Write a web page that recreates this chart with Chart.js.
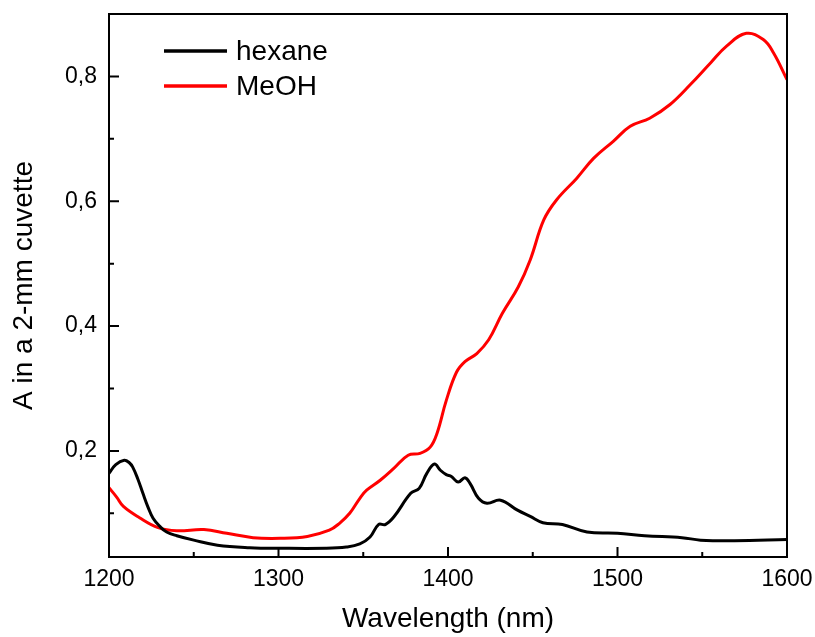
<!DOCTYPE html>
<html>
<head>
<meta charset="utf-8">
<script src="https://cdn.jsdelivr.net/npm/chart.js@4/dist/chart.umd.min.js"></script>
<style>
html,body{margin:0;padding:0;background:#fff;}
#wrap{width:815px;height:637px;}
</style>
</head>
<body>
<div id="wrap"><canvas id="c" width="815" height="637"></canvas></div>
<script>
const seriesNames = ['hexane', 'MeOH'];
const hexaneX = [1200,1204,1209,1212,1214,1217,1220,1223,1226,1230,1234,1240,1250,1264,1283,1301,1328,1340,1348,1354,1359,1363,1368,1378,1383,1387.5,1392,1395.5,1399,1402,1406,1410,1413,1418,1423,1431,1441,1448.5,1456,1467.5,1482,1500,1516,1538,1549,1569,1600];
const hexaneY = [0.164,0.178,0.185,0.181,0.174,0.155,0.132,0.110,0.092,0.079,0.070,0.064,0.057,0.049,0.045,0.044,0.044,0.046,0.051,0.062,0.082,0.082,0.094,0.132,0.140,0.164,0.179,0.169,0.162,0.159,0.150,0.157,0.148,0.124,0.116,0.121,0.105,0.095,0.085,0.082,0.070,0.068,0.064,0.061,0.057,0.056,0.058];
const meohX = [1200,1204.5,1208.5,1218,1229,1240,1256,1269.5,1285,1301,1317,1330,1336,1342,1348,1352,1360,1368,1376.5,1383.5,1389.5,1393.5,1399,1405,1410,1417,1424,1432,1441.5,1448.5,1456.5,1464,1476,1486,1497.5,1507.5,1519,1531,1543,1555,1564.5,1576,1586,1592,1600];
const meohY = [0.141,0.126,0.111,0.093,0.077,0.072,0.074,0.068,0.061,0.060,0.063,0.073,0.084,0.100,0.124,0.137,0.153,0.172,0.193,0.196,0.206,0.228,0.281,0.326,0.343,0.356,0.378,0.420,0.463,0.506,0.570,0.602,0.637,0.669,0.696,0.720,0.733,0.755,0.787,0.822,0.849,0.869,0.859,0.838,0.795];
const xMajorTicks = [1200,1300,1400,1500,1600];
const xMinorTicks = [1250,1350,1450,1550];
const yMajorTicks = [0.2,0.4,0.6,0.8];
const yMinorTicks = [0.1,0.3,0.5,0.7];
const xTitle = 'Wavelength (nm)';
const yTitle = 'A in a 2-mm cuvette';

const FONT = "'Liberation Sans', Arial, sans-serif";
const colors = ['#000000', '#ff0000'];

function pts(xs, ys){ return xs.map((x,i)=>({x:x, y:ys[i]})); }
function zeroPad(s){ s.paddingTop = 0; s.paddingBottom = 0; s.paddingLeft = 0; s.paddingRight = 0; }

const framePlugin = {
  id: 'frameTicks',
  afterDatasetsDraw(chart){
    const {ctx, chartArea:a, scales} = chart;
    const xs = scales.x, ys = scales.y;
    ctx.save();
    ctx.strokeStyle = '#000';
    ctx.lineWidth = 2;
    ctx.strokeRect(a.left, a.top, a.right - a.left, a.bottom - a.top);
    ctx.beginPath();
    xMajorTicks.forEach(v=>{ const p = xs.getPixelForValue(v); ctx.moveTo(p, a.bottom); ctx.lineTo(p, a.bottom - 10); });
    xMinorTicks.forEach(v=>{ const p = xs.getPixelForValue(v); ctx.moveTo(p, a.bottom); ctx.lineTo(p, a.bottom - 5); });
    yMajorTicks.forEach(v=>{ const p = ys.getPixelForValue(v); ctx.moveTo(a.left, p); ctx.lineTo(a.left + 10, p); });
    yMinorTicks.forEach(v=>{ const p = ys.getPixelForValue(v); ctx.moveTo(a.left, p); ctx.lineTo(a.left + 5, p); });
    ctx.stroke();
    ctx.restore();
  },
  afterDraw(chart){
    const {ctx} = chart;
    ctx.save();
    ctx.font = '28px ' + FONT;
    ctx.textBaseline = 'middle';
    ctx.fillStyle = '#000';
    const rows = [51, 86];
    seriesNames.forEach((n,i)=>{
      const y = rows[i];
      ctx.strokeStyle = colors[i];
      ctx.lineWidth = 3.5;
      ctx.beginPath();
      ctx.moveTo(164, y); ctx.lineTo(227, y);
      ctx.stroke();
      ctx.fillText(n, 236, y + 1);
    });
    ctx.restore();
  }
};

new Chart(document.getElementById('c'), {
  type: 'line',
  data: {
    datasets: [
      { label: seriesNames[0], data: pts(hexaneX, hexaneY), borderColor: colors[0], borderWidth: 3, pointRadius: 0, tension: 0.4, fill: false },
      { label: seriesNames[1], data: pts(meohX, meohY), borderColor: colors[1], borderWidth: 3, pointRadius: 0, tension: 0.4, fill: false }
    ]
  },
  options: {
    responsive: false,
    animation: false,
    devicePixelRatio: 1,
    layout: { padding: { top: 14, right: 28, left: 0, bottom: 0 } },
    plugins: { legend: { display: false }, tooltip: { enabled: false } },
    scales: {
      x: {
        type: 'linear', min: 1200, max: 1600,
        grid: { display: false, drawTicks: false },
        border: { display: false },
        afterFit(s){ s.height = 80; zeroPad(s); },
        afterBuildTicks(s){ s.ticks = xMajorTicks.map(v=>({value:v})); },
        ticks: { color: '#000', font: { family: FONT, size: 23 }, padding: 9, maxRotation: 0, autoSkip: false, callback: v => String(v) },
        title: { display: true, text: xTitle, color: '#000', font: { family: FONT, size: 28 }, padding: { top: 0, bottom: 1 } }
      },
      y: {
        type: 'linear', min: 0.03, max: 0.9,
        grid: { display: false, drawTicks: false },
        border: { display: false },
        afterFit(s){ s.width = 109; zeroPad(s); },
        afterBuildTicks(s){ s.ticks = yMajorTicks.map(v=>({value:v})); },
        ticks: { color: '#000', font: { family: FONT, size: 23 }, padding: 12, autoSkip: false, callback: v => v.toFixed(1).replace('.', ',') },
        title: { display: true, text: yTitle, color: '#000', font: { family: FONT, size: 28 }, padding: { top: 7, bottom: 0 } }
      }
    }
  },
  plugins: [framePlugin]
});
</script>
</body>
</html>
